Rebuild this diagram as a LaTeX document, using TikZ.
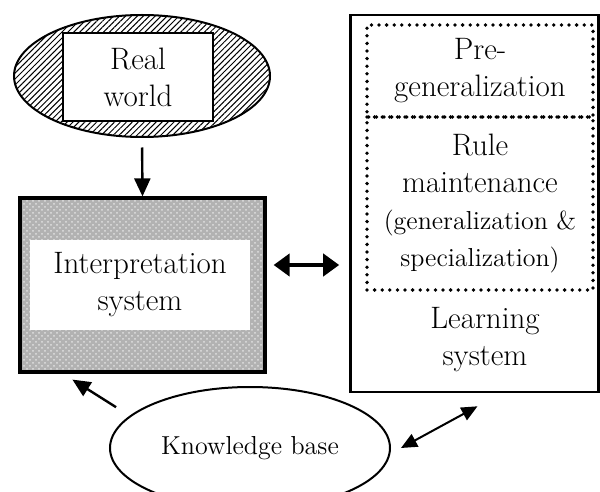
\documentclass[tikz,border=0pt]{standalone}
\usetikzlibrary{shapes.geometric,arrows.meta,patterns,patterns.meta}

\begin{document}
\begin{tikzpicture}[x=0.5pt,y=-0.5pt,
  box/.style={draw,line width=1.3pt,inner sep=0pt},
  dotbox/.style={draw,line width=1.9pt,dash pattern=on 0pt off 3.8pt,line cap=round,inner sep=0pt},
  txt/.style={font=\fontsize{15.5}{18.5}\selectfont,align=center},
  arr/.style={line width=1.2pt,-{Triangle[length=9pt,width=8pt]}},
  dblarr/.style={line width=2.2pt,{Triangle[length=8pt,width=11pt]}-{Triangle[length=8pt,width=11pt]}}]
\newcommand\smallline{\fontsize{13}{18.5}\selectfont}
\useasboundingbox (0,0) rectangle (600,492);
\node[ellipse,draw,line width=1pt,minimum width=128pt,minimum height=61pt,pattern={Lines[angle=45,distance=2.1pt,line width=0.5pt]}] (world) at (142,76) {}; % hatched ellipse
\node[box,line width=0.9pt,fill=white,minimum width=75pt,minimum height=44pt,txt] (real) at (138,77) {Real\\world};
\node[box,line width=1.6pt,minimum width=122.5pt,minimum height=87pt,preaction={fill=gray!60},preaction={pattern=crosshatch dots,pattern color=gray!25}] (interp) at (142.5,285) {}; % textured box
\node[fill=white,minimum width=110pt,minimum height=45pt,txt] (interptext) at (140,285) {Interpretation\\system};
\node[box,minimum width=124pt,minimum height=188.5pt] (learn) at (474.5,203.5) {}; % learning system
\node[dotbox,minimum width=113pt,minimum height=46pt,txt] (pregen) at (480,71) {Pre-\\generalization};
\node[dotbox,minimum width=113pt,minimum height=86.5pt,txt] (rule) at (480,203.5) {Rule\\maintenance\\{\smallline (generalization \&}\\{\smallline specialization)}};
\node[txt] (learntext) at (485,340) {Learning\\system};
\node[ellipse,draw,line width=1pt,minimum width=140pt,minimum height=61pt,font=\fontsize{13}{16}\selectfont] (kb) at (250,448) {Knowledge base};
\draw[arr,shorten <=5pt] (world.south) -- (interp.north); % down arrow
\draw[dblarr] ([xshift=3.5pt,yshift=10pt]interp.east) -- ([xshift=-5pt,yshift=10pt]learn.west |- interp.east); % both ways
\draw[arr,shorten <=8pt] (kb.165) -- ([xshift=27pt,yshift=-3pt]interp.south west); % to interpretation
\draw[line width=1pt,{Triangle[length=8pt,width=7pt]}-{Triangle[length=8pt,width=7pt]}] ([xshift=5pt]kb.east) -- ([xshift=1.5pt,yshift=-6.5pt]learn.south); % to learning system
\end{tikzpicture}
\end{document}
